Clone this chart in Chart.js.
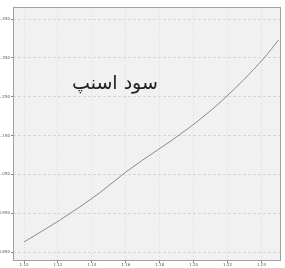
<!DOCTYPE html>
<html>
<head>
<meta charset="utf-8">
<script src="https://cdn.jsdelivr.net/npm/chart.js@4"></script>
<style>
  html, body { margin: 0; padding: 0; background: #fff; }
  #wrap { position: relative; width: 285px; height: 268px; }
  #label {
    position: absolute; left: 72px; top: 71px;
    font: 19px "DejaVu Sans", sans-serif; color: #222; direction: rtl;
  }
</style>
</head>
<body>
<div id="wrap">
  <canvas id="chart" width="285" height="268"></canvas>
  <div id="label">سود اسنپ</div>
</div>
<script>
// values
const xValues = [1.100, 1.121, 1.145, 1.160, 1.197, 1.217, 1.242, 1.250];
const yValues = [0.876, 0.932, 1.004, 1.056, 1.169, 1.241, 1.352, 1.396];
const xTicks = [1.10, 1.12, 1.14, 1.16, 1.18, 1.20, 1.22, 1.24];
const yTicks = [0.85, 0.95, 1.05, 1.15, 1.25, 1.35, 1.45];

// light gray plot area + solid frame
const plotBox = {
  id: 'plotBox',
  beforeDraw(chart) {
    const {ctx, chartArea: a} = chart;
    ctx.save();
    ctx.fillStyle = '#f1f1f1';
    ctx.fillRect(a.left, a.top, a.right - a.left, a.bottom - a.top);
    ctx.restore();
  },
  afterDatasetsDraw(chart) {
    const {ctx, chartArea: a} = chart;
    ctx.save();
    ctx.strokeStyle = '#a0a0a0';
    ctx.lineWidth = 1;
    ctx.strokeRect(a.left + 0.5, a.top + 0.5, a.right - a.left - 1, a.bottom - a.top - 1);
    ctx.restore();
  }
};

const tickFont = {family: 'DejaVu Sans', size: 4};

new Chart(document.getElementById('chart'), {
  type: 'scatter',
  data: {
    datasets: [{
      data: xValues.map((x, i) => ({x: x, y: yValues[i]})),
      showLine: true,
      borderColor: '#8a8a8a',
      borderWidth: 1,
      pointRadius: 0,
      cubicInterpolationMode: 'monotone'
    }]
  },
  options: {
    responsive: false,
    animation: false,
    layout: {padding: {top: 7, right: 4, left: 0, bottom: 0}},
    plugins: {legend: {display: false}, tooltip: {enabled: false}},
    scales: {
      x: {
        type: 'linear', min: 1.0935, max: 1.2515,
        afterBuildTicks: s => { s.ticks = xTicks.map(v => ({value: v})); },
        afterFit: s => { s.height = 7; },
        ticks: {font: tickFont, color: '#555', padding: 0, maxRotation: 0,
                callback: v => v.toFixed(2)},
        grid: {color: '#dadada', tickLength: 2, tickColor: '#888'},
        border: {display: false, dash: [1, 2]}
      },
      y: {
        min: 0.827, max: 1.481,
        afterBuildTicks: s => { s.ticks = yTicks.map(v => ({value: v})); },
        afterFit: s => { s.width = 13; },
        ticks: {font: tickFont, color: '#555', padding: 1,
                callback: v => v.toFixed(3)},
        grid: {color: '#d6d6d6', tickLength: 2, tickColor: '#888'},
        border: {display: false, dash: [3, 2]}
      }
    }
  },
  plugins: [plotBox]
});
</script>
</body>
</html>
